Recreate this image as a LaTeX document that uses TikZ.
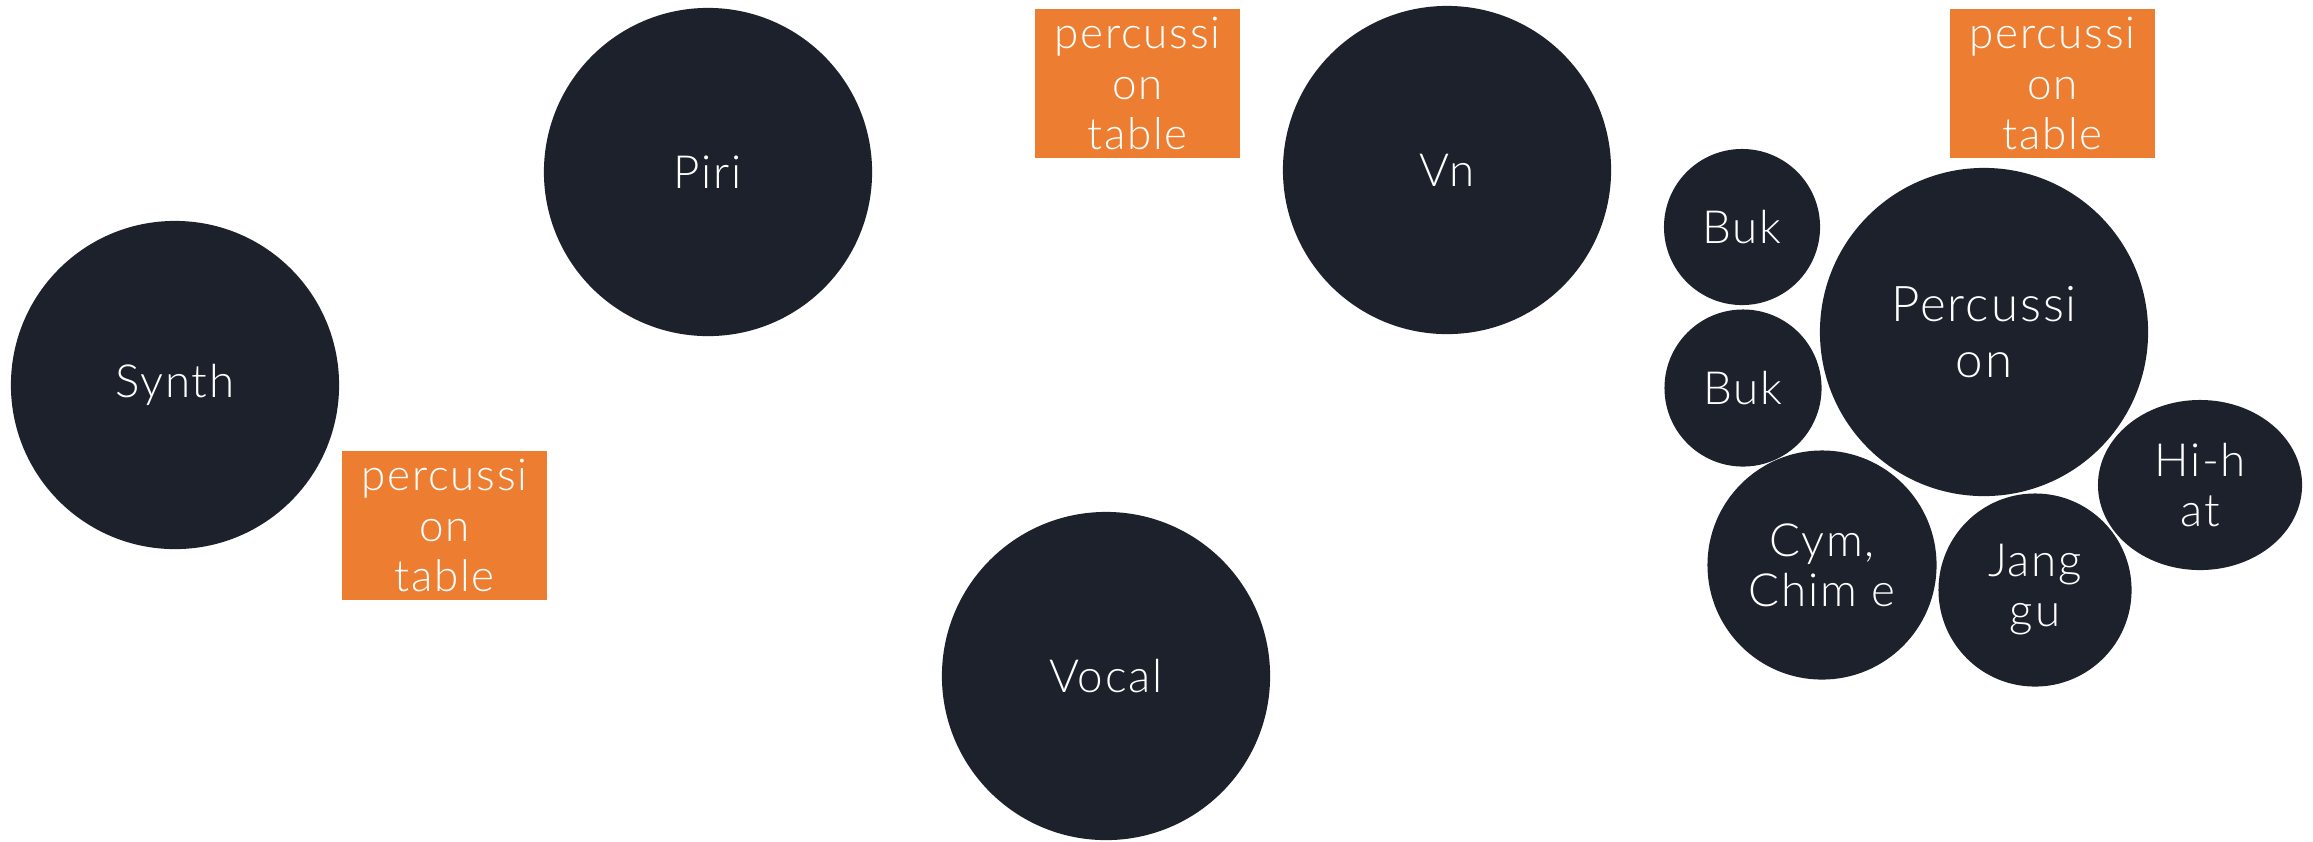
\documentclass[tikz,border=0pt]{standalone}
\usepackage{fontspec}
\setmainfont{Lato}[UprightFont=* Light, LetterSpace=4]
\usetikzlibrary{shapes.geometric}

\definecolor{discfill}{HTML}{1C212B}
\definecolor{notefill}{HTML}{ED7D31}

\tikzset{
	disc/.style={circle, fill=discfill, text=white, align=center, inner sep=0pt,
		font=\fontsize{13}{14.2}\selectfont},
	oval/.style={ellipse, fill=discfill, text=white, align=center, inner sep=0pt,
		font=\fontsize{13}{14.2}\selectfont},
	note/.style={rectangle, fill=notefill, text=white, align=center, inner sep=0pt,
		minimum width=2.05cm, minimum height=1.49cm,
		font=\fontsize{12.5}{14.4}\selectfont}
}

\begin{document}
\begin{tikzpicture}[x=0.01cm, y=-0.01cm]
	\fill[white] (0,0) rectangle (2313,841);
	% big ones
	\node[disc, minimum size=3.28cm] (synth) at (175,385) {Synth};
	\node[disc, minimum size=3.28cm] (piri) at (708,172) {Piri};
	\node[disc, minimum size=3.28cm] (vn) at (1447,170) {Vn};
	\node[disc, minimum size=3.28cm] (vocal) at (1106,676) {Vocal};
	\node[disc, minimum size=3.28cm, font=\fontsize{14}{16}\selectfont] (perc) at (1984,332) {Percussi\\on};
	% small ones
	\node[disc, minimum size=1.56cm] (buka) at (1742,227) {Buk};
	\node[disc, minimum size=1.57cm] (bukb) at (1743,388) {Buk};
	\node[disc, minimum size=2.29cm] (cym) at (1822,565) {Cym,\\Chim e};
	\node[disc, minimum size=1.93cm] (janggu) at (2035,590) {Jang\\gu};
	\node[oval, minimum width=2.04cm, minimum height=1.70cm] (hihat) at (2200,485) {Hi-h\\at};
	% tables
	\node[note] (notea) at (444.5,525.5) {percussi\\on\\table};
	\node[note] (noteb) at (1137.5,83.5) {percussi\\on\\table};
	\node[note] (notec) at (2052.5,83.5) {percussi\\on\\table};
\end{tikzpicture}
\end{document}
